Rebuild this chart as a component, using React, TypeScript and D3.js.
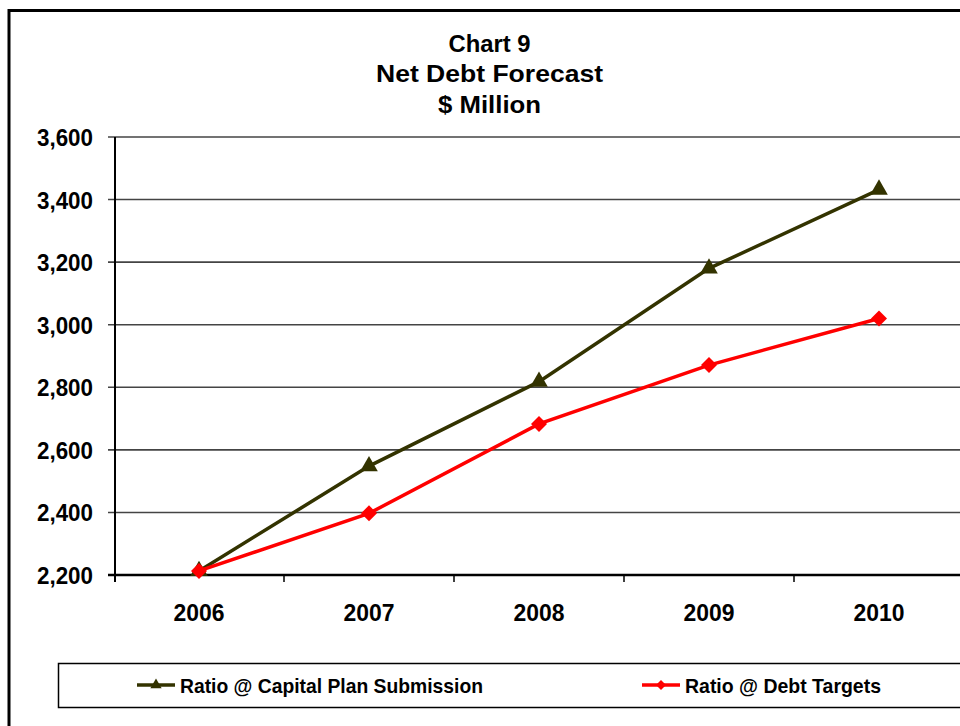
import React from "react";
import * as d3 from "d3";

const years = ["2006", "2007", "2008", "2009", "2010"];
const capitalPlan = [2213, 2548, 2818, 3180, 3432];
const debtTargets = [2213, 2397, 2683, 2871, 3020];
const yTicks = [2200, 2400, 2600, 2800, 3000, 3200, 3400, 3600];
const titleLines = ["Chart 9", "Net Debt Forecast", "$ Million"];
const seriesNames = ["Ratio @ Capital Plan Submission", "Ratio @ Debt Targets"];

const GREEN = "#333300";
const RED = "#ff0000";
const FONT = "'Liberation Sans', Arial, sans-serif";

export default function App() {
  const left = 114;
  const right = 964;
  const top = 137;
  const bottom = 575;

  const x = d3.scaleBand<string>().domain(years).range([left, right]);
  const y = d3.scaleLinear().domain([2200, 3600]).range([bottom, top]);
  const cx = (d: string) => (x(d) as number) + x.bandwidth() / 2;

  const line = d3
    .line<number>()
    .x((_, i) => cx(years[i]))
    .y((v) => y(v));

  const tri = d3.symbol().type(d3.symbolTriangle).size(135)() as string;
  const triSmall = d3.symbol().type(d3.symbolTriangle).size(55)() as string;
  const dia = d3.symbol().type(d3.symbolSquare).size(128)() as string;
  const diaSmall = d3.symbol().type(d3.symbolSquare).size(50)() as string;

  const titleY = [52, 82, 113];
  const titleW = [82, 227, 103];

  return (
    <svg
      width={960}
      height={726}
      style={{ position: "absolute", left: 0, top: 0, background: "#fff" }}
      fontFamily={FONT}
    >
      <rect x={0} y={0} width={960} height={726} fill="#fff" />
      {/* outer frame */}
      <rect x={9} y={10.5} width={1000} height={800} fill="none" stroke="#000" strokeWidth={3} />

      {/* title */}
      {titleLines.map((t, i) => (
        <text
          key={t}
          x={489.5}
          y={titleY[i]}
          textAnchor="middle"
          fontWeight="bold"
          fontSize={24.5}
          textLength={titleW[i]}
          lengthAdjust="spacingAndGlyphs"
        >
          {t}
        </text>
      ))}

      {/* gridlines */}
      {yTicks.map((t) => (
        <line
          key={t}
          x1={108}
          x2={right}
          y1={y(t)}
          y2={y(t)}
          stroke={t === 2200 ? "#000" : "#444"}
          strokeWidth={t === 2200 ? 2.5 : 1.6}
        />
      ))}

      {/* y axis */}
      <line x1={left + 1} x2={left + 1} y1={top} y2={bottom + 7} stroke="#000" strokeWidth={2} />
      {yTicks.map((t) => (
        <text
          key={"yl" + t}
          x={93}
          y={y(t) + 9}
          textAnchor="end"
          fontWeight="bold"
          fontSize={24}
          textLength={56}
          lengthAdjust="spacingAndGlyphs"
        >
          {d3.format(",")(t)}
        </text>
      ))}

      {/* x axis ticks */}
      {years.map((yr) => (
        <line
          key={"xt" + yr}
          x1={(x(yr) as number) + x.bandwidth()}
          x2={(x(yr) as number) + x.bandwidth()}
          y1={bottom}
          y2={bottom + 7}
          stroke="#000"
          strokeWidth={1.5}
        />
      ))}
      {years.map((yr) => (
        <text
          key={"xl" + yr}
          x={cx(yr)}
          y={621}
          textAnchor="middle"
          fontWeight="bold"
          fontSize={24}
          textLength={51}
          lengthAdjust="spacingAndGlyphs"
        >
          {yr}
        </text>
      ))}

      {/* series */}
      <path d={line(capitalPlan) as string} fill="none" stroke={GREEN} strokeWidth={3.5} />
      {capitalPlan.map((v, i) => (
        <path key={"g" + i} d={tri} transform={`translate(${cx(years[i])},${y(v)})`} fill={GREEN} />
      ))}
      <path d={line(debtTargets) as string} fill="none" stroke={RED} strokeWidth={3.5} />
      {debtTargets.map((v, i) => (
        <path
          key={"r" + i}
          d={dia}
          transform={`translate(${cx(years[i])},${y(v)}) rotate(45)`}
          fill={RED}
        />
      ))}

      {/* legend */}
      <rect x={58.5} y={663.5} width={960} height={44} fill="#fff" stroke="#000" strokeWidth={1.5} />
      <line x1={137} x2={175} y1={685} y2={685} stroke={GREEN} strokeWidth={3.5} />
      <path d={triSmall} transform="translate(156,685)" fill={GREEN} />
      <text
        x={180}
        y={693}
        fontWeight="bold"
        fontSize={21}
        textLength={303}
        lengthAdjust="spacingAndGlyphs"
      >
        {seriesNames[0]}
      </text>
      <line x1={642} x2={680} y1={685} y2={685} stroke={RED} strokeWidth={3.5} />
      <path d={diaSmall} transform="translate(661,685) rotate(45)" fill={RED} />
      <text
        x={685}
        y={693}
        fontWeight="bold"
        fontSize={21}
        textLength={196}
        lengthAdjust="spacingAndGlyphs"
      >
        {seriesNames[1]}
      </text>
    </svg>
  );
}
